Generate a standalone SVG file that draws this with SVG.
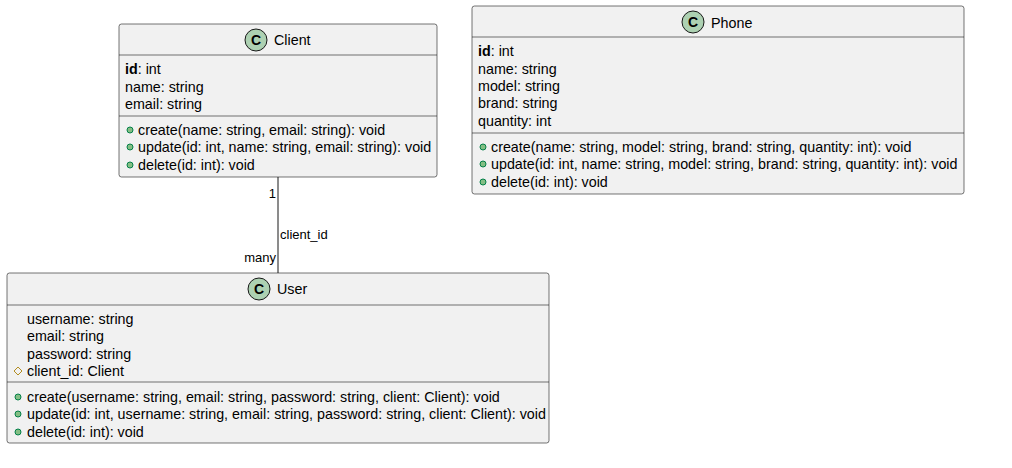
<svg xmlns="http://www.w3.org/2000/svg" width="1012" height="468" viewBox="0 0 1012 468">
<style>
.box{fill:#F1F1F1;stroke:#181818;stroke-width:0.6}
.sep{stroke:#181818;stroke-width:0.6}
.ic{fill:#ADD1B2;stroke:#181818;stroke-width:1}
.ict{font-family:"Liberation Sans",Arial,sans-serif;font-size:14px;font-weight:bold;fill:#000}
.t{font-family:"Liberation Sans",Arial,sans-serif;font-size:14.3px;fill:#000}
.title{font-family:"Liberation Sans",Arial,sans-serif;font-size:14.3px;fill:#000}
.lbl{font-family:"Liberation Sans",Arial,sans-serif;font-size:13px;fill:#000}
.pub{fill:#84BE84;stroke:#038048;stroke-width:1}
.prot{fill:none;stroke:#B38D22;stroke-width:1}
.edge{stroke:#181818;stroke-width:1;fill:none}
</style>
<rect width="1012" height="468" fill="#FFFFFF"/>
<g id="connectors">
<path class="edge" d="M278,177 L278,273"/>
<text class="lbl" x="276" y="198" text-anchor="end">1</text>
<text class="lbl" x="280" y="239">client_id</text>
<text class="lbl" x="276" y="262" text-anchor="end">many</text>
</g>
<g id="Client">
<rect class="box" x="119" y="24" width="318" height="153" rx="2.5"/>
<circle class="ic" cx="256" cy="40" r="11"/>
<text class="ict" x="256" y="45" text-anchor="middle">C</text>
<text class="title" x="274" y="45">Client</text>
<line class="sep" x1="119" y1="55" x2="437" y2="55"/>
<text class="t" x="125" y="74"><tspan font-weight="bold">id</tspan>: int</text>
<text class="t" x="125" y="92">name: string</text>
<text class="t" x="125" y="109">email: string</text>
<line class="sep" x1="119" y1="116" x2="437" y2="116"/>
<circle class="pub" cx="130" cy="130" r="3"/>
<text class="t" x="138" y="135">create(name: string, email: string): void</text>
<circle class="pub" cx="130" cy="147" r="3"/>
<text class="t" x="138" y="152">update(id: int, name: string, email: string): void</text>
<circle class="pub" cx="130" cy="165" r="3"/>
<text class="t" x="138" y="170">delete(id: int): void</text>
</g>
<g id="Phone">
<rect class="box" x="472" y="6" width="492" height="188" rx="2.5"/>
<circle class="ic" cx="693" cy="22" r="11"/>
<text class="ict" x="693" y="27" text-anchor="middle">C</text>
<text class="title" x="711" y="28">Phone</text>
<line class="sep" x1="472" y1="37" x2="964" y2="37"/>
<text class="t" x="478" y="56"><tspan font-weight="bold">id</tspan>: int</text>
<text class="t" x="478" y="74">name: string</text>
<text class="t" x="478" y="91">model: string</text>
<text class="t" x="478" y="108">brand: string</text>
<text class="t" x="478" y="126">quantity: int</text>
<line class="sep" x1="472" y1="133" x2="964" y2="133"/>
<circle class="pub" cx="483" cy="147" r="3"/>
<text class="t" x="491" y="152">create(name: string, model: string, brand: string, quantity: int): void</text>
<circle class="pub" cx="483" cy="164" r="3"/>
<text class="t" x="491" y="169">update(id: int, name: string, model: string, brand: string, quantity: int): void</text>
<circle class="pub" cx="483" cy="182" r="3"/>
<text class="t" x="491" y="187">delete(id: int): void</text>
</g>
<g id="User">
<rect class="box" x="7" y="273" width="542" height="170" rx="2.5"/>
<circle class="ic" cx="259" cy="289" r="11"/>
<text class="ict" x="259" y="294" text-anchor="middle">C</text>
<text class="title" x="277" y="294">User</text>
<line class="sep" x1="7" y1="305" x2="549" y2="305"/>
<text class="t" x="27" y="324">username: string</text>
<text class="t" x="27" y="341">email: string</text>
<text class="t" x="27" y="359">password: string</text>
<polygon class="prot" points="18,367 22,371 18,375 14,371"/>
<text class="t" x="27" y="376">client_id: Client</text>
<line class="sep" x1="7" y1="382" x2="549" y2="382"/>
<circle class="pub" cx="18" cy="397" r="3"/>
<text class="t" x="27" y="402">create(username: string, email: string, password: string, client: Client): void</text>
<circle class="pub" cx="18" cy="414" r="3"/>
<text class="t" x="27" y="419">update(id: int, username: string, email: string, password: string, client: Client): void</text>
<circle class="pub" cx="18" cy="432" r="3"/>
<text class="t" x="27" y="437">delete(id: int): void</text>
</g>
</svg>
